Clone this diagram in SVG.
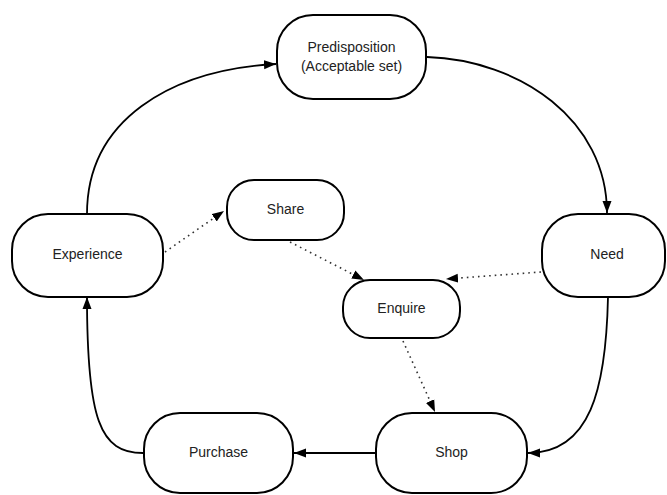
<svg xmlns="http://www.w3.org/2000/svg" width="667" height="495" viewBox="0 0 667 495">
<defs>
<marker id="ah" viewBox="0 0 12 10" refX="12" refY="5" markerWidth="12" markerHeight="10" markerUnits="userSpaceOnUse" orient="auto">
<path d="M0,0.5 L12,5 L0,9.5 Z" fill="#000"/>
</marker>
<style>
.node rect{fill:#fff;stroke:#000;stroke-width:2}
.node text{font-family:"Liberation Sans",Arial,sans-serif;font-size:14px;fill:#222;text-anchor:middle;dominant-baseline:central}
.solid{fill:none;stroke:#000;stroke-width:1.8;marker-end:url(#ah)}
.dot{fill:none;stroke:#333;stroke-width:1.6;stroke-dasharray:1.6 4;marker-end:url(#ah)}
</style>
</defs>
<rect width="667" height="495" fill="#fff"/>
<g id="connectors">
<path class="solid" d="M87,214 C87,120 170,70 276,64"/>
<path class="solid" d="M427,57 C520,60 607,120 607,213"/>
<path class="solid" d="M608,297 C606,390 590,453 528,453"/>
<path class="solid" d="M376,453 L294,453"/>
<path class="solid" d="M143,453 C100,453 87,420 87,297"/>
<path class="dot" d="M165,252 L224,211"/>
<path class="dot" d="M290,242 L364,280"/>
<path class="dot" d="M541,272 L446,279"/>
<path class="dot" d="M403,341 L435,412"/>
</g>
<g id="predisposition" class="node">
<rect x="277" y="15" width="149" height="84" rx="36"/>
<text x="351.5" y="47">Predisposition</text>
<text x="351.5" y="66">(Acceptable set)</text>
</g>
<g id="experience" class="node">
<rect x="12" y="214" width="151" height="83" rx="36"/>
<text x="87.5" y="254">Experience</text>
</g>
<g id="share" class="node">
<rect x="227" y="180" width="117" height="60" rx="27"/>
<text x="285.5" y="209">Share</text>
</g>
<g id="enquire" class="node">
<rect x="343" y="280" width="117" height="58" rx="27"/>
<text x="401.5" y="308">Enquire</text>
</g>
<g id="need" class="node">
<rect x="542" y="214" width="123" height="83" rx="36"/>
<text x="607" y="254">Need</text>
</g>
<g id="purchase" class="node">
<rect x="144" y="413" width="149" height="80" rx="36"/>
<text x="218.5" y="452">Purchase</text>
</g>
<g id="shop" class="node">
<rect x="376" y="413" width="151" height="80" rx="36"/>
<text x="451.5" y="452">Shop</text>
</g>
</svg>
